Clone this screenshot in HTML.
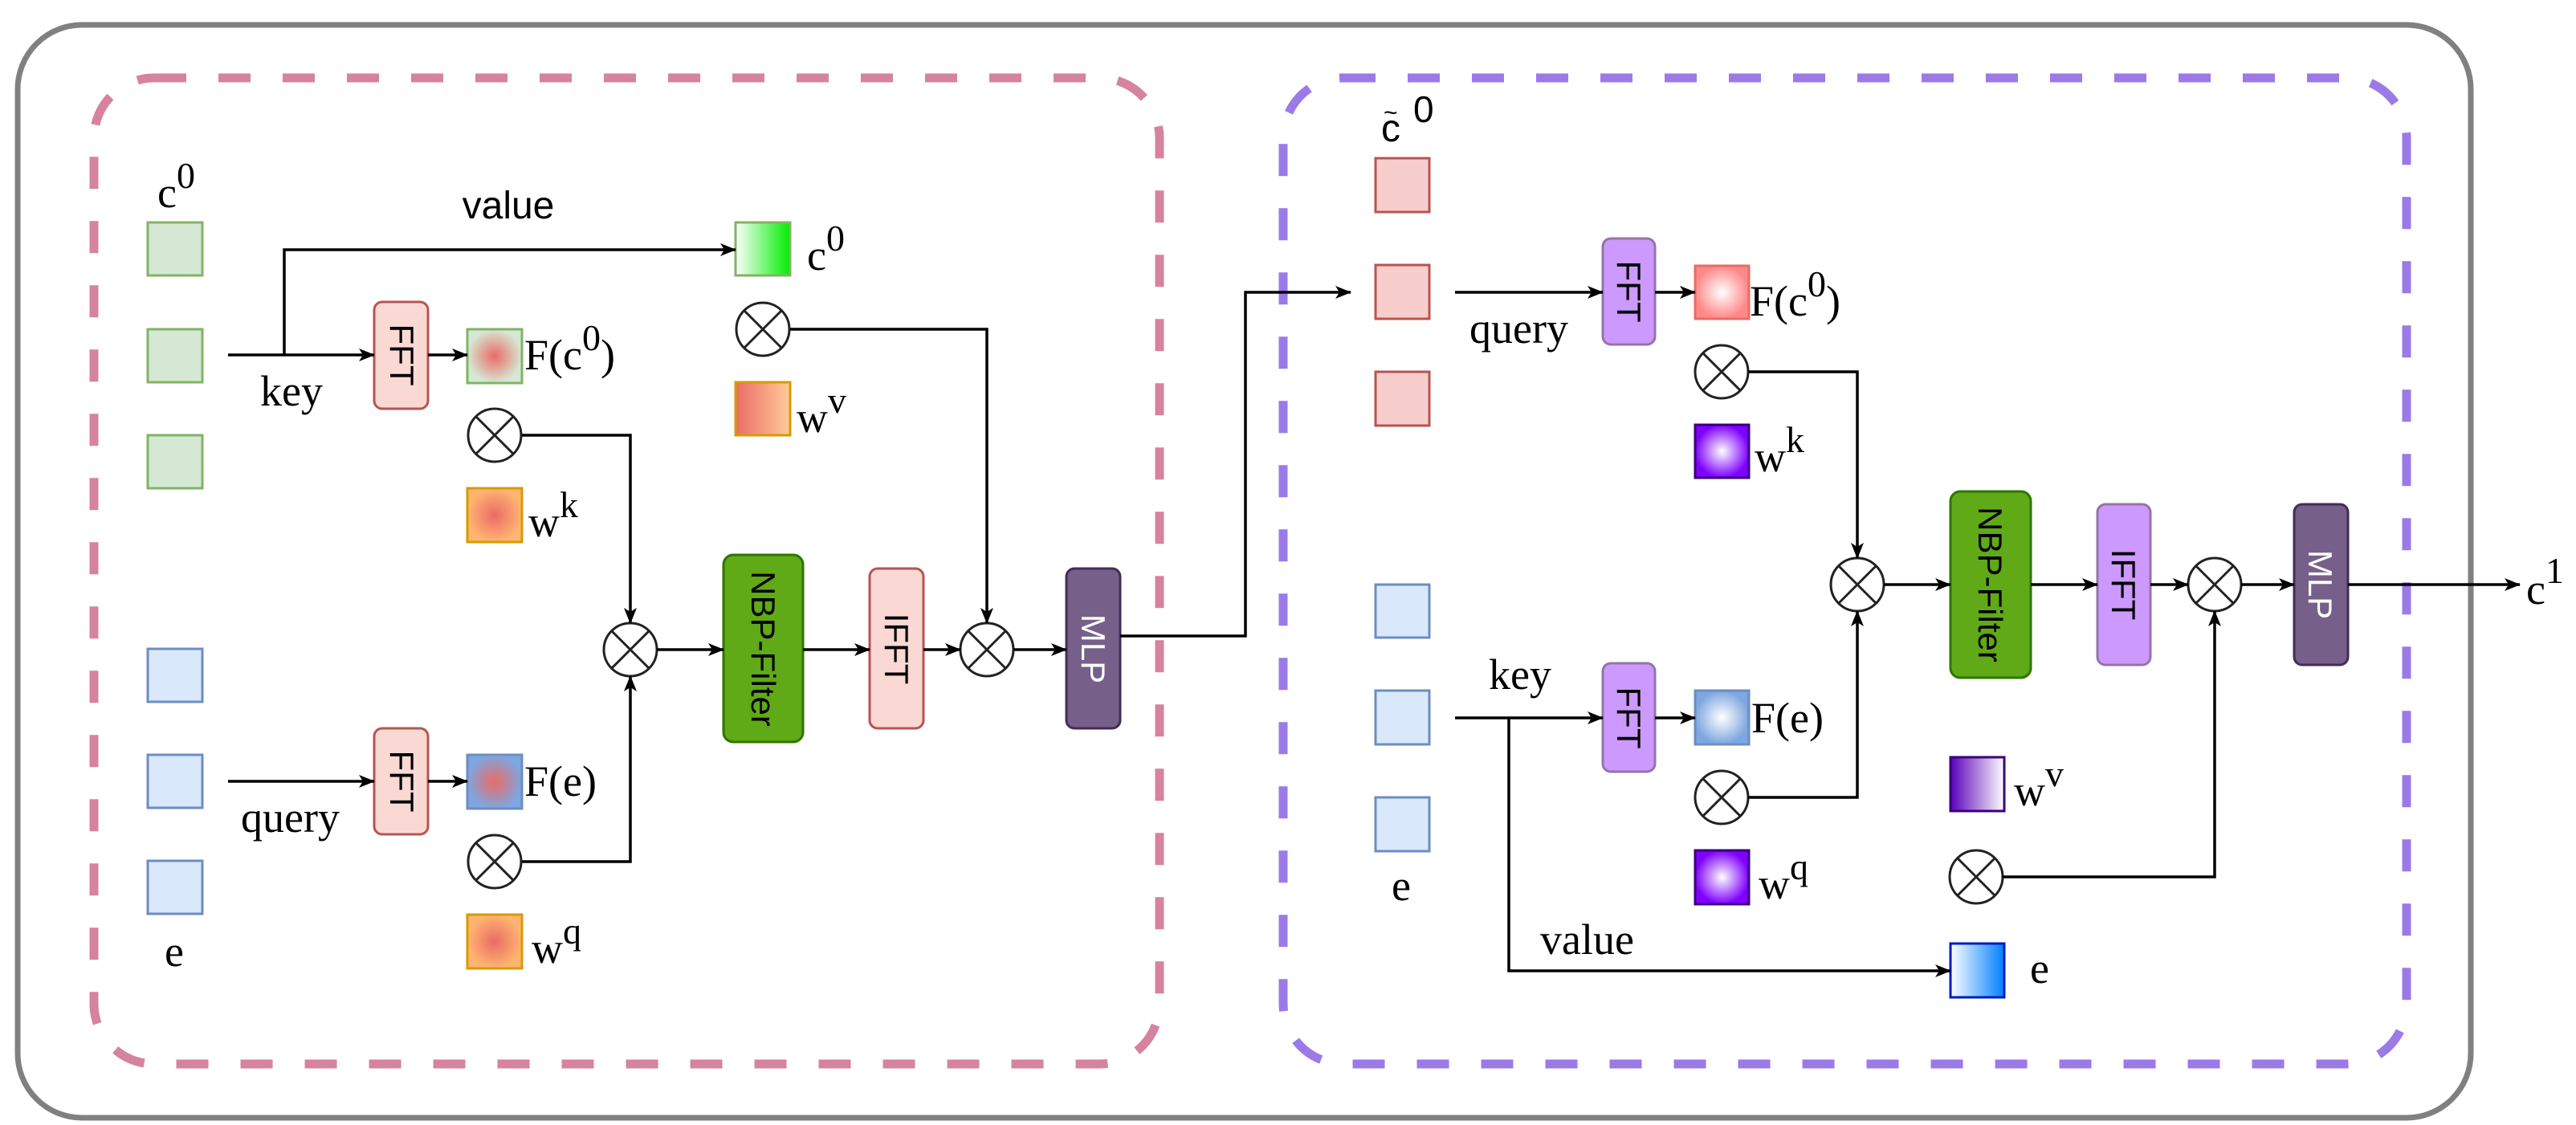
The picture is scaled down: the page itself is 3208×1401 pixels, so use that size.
<!DOCTYPE html>
<html><head><meta charset="utf-8"><style>
html,body{margin:0;padding:0;background:#fff;}
svg{display:block}
.s{font-family:"Liberation Serif",serif;fill:#000}
.a{font-family:"Liberation Sans",sans-serif;fill:#000}
</style></head><body>
<svg width="3208" height="1401" viewBox="0 0 3208 1401" xmlns="http://www.w3.org/2000/svg">
<defs>
<marker id="m" viewBox="0 0 20 16" refX="19" refY="8" markerWidth="20" markerHeight="16" orient="auto" markerUnits="userSpaceOnUse">
<path d="M0,0 L20,8 L0,16 L5,8 Z" fill="#000"/>
</marker>
<radialGradient id="rg_g"><stop offset="0" stop-color="#ea6b66"/><stop offset="1" stop-color="#d5e8d4"/></radialGradient>
<radialGradient id="rg_b"><stop offset="0" stop-color="#ea6b66"/><stop offset="1" stop-color="#7ea6e0"/></radialGradient>
<radialGradient id="rg_o"><stop offset="0" stop-color="#ea6b66"/><stop offset="1" stop-color="#ffb570"/></radialGradient>
<radialGradient id="rg_w"><stop offset="0" stop-color="#ffffff"/><stop offset="1" stop-color="#ff8888"/></radialGradient>
<radialGradient id="rg_wb"><stop offset="0" stop-color="#ffffff"/><stop offset="1" stop-color="#7ea6e0"/></radialGradient>
<radialGradient id="rg_p"><stop offset="0" stop-color="#ffffff"/><stop offset="1" stop-color="#7f00ff"/></radialGradient>
<linearGradient id="lg_g"><stop offset="0" stop-color="#ffffff"/><stop offset="1" stop-color="#00ee00"/></linearGradient>
<linearGradient id="lg_o"><stop offset="0" stop-color="#ea6b66"/><stop offset="1" stop-color="#ffcc99"/></linearGradient>
<linearGradient id="lg_p"><stop offset="0" stop-color="#5a00b8"/><stop offset="1" stop-color="#ffffff"/></linearGradient>
<linearGradient id="lg_b"><stop offset="0" stop-color="#ffffff"/><stop offset="1" stop-color="#007fff"/></linearGradient>
</defs>

<rect x="22" y="31" width="3055" height="1361" rx="80" fill="none" stroke="#808080" stroke-width="7"/>
<rect x="117" y="97" width="1327" height="1228" rx="75" fill="none" stroke="#d6839f" stroke-width="11" stroke-dasharray="40,40"/>
<rect x="1598" y="97" width="1399" height="1228" rx="75" fill="none" stroke="#9b7ae8" stroke-width="11" stroke-dasharray="40,40"/>

<g stroke-width="3">
<rect x="184" y="277" width="68" height="66" fill="#d5e8d4" stroke="#82b366"/>
<rect x="184" y="410" width="68" height="66" fill="#d5e8d4" stroke="#82b366"/>
<rect x="184" y="542" width="68" height="66" fill="#d5e8d4" stroke="#82b366"/>
<rect x="184" y="808" width="68" height="66" fill="#dae8fc" stroke="#6c8ebf"/>
<rect x="184" y="940" width="68" height="66" fill="#dae8fc" stroke="#6c8ebf"/>
<rect x="184" y="1072" width="68" height="66" fill="#dae8fc" stroke="#6c8ebf"/>

<rect x="582" y="410" width="68" height="67" fill="url(#rg_g)" stroke="#82b366"/>
<rect x="582" y="608" width="68" height="67" fill="url(#rg_o)" stroke="#d79b00"/>
<rect x="582" y="940" width="68" height="67" fill="url(#rg_b)" stroke="#6c8ebf"/>
<rect x="582" y="1139" width="68" height="67" fill="url(#rg_o)" stroke="#d79b00"/>
<rect x="916" y="277" width="68" height="66" fill="url(#lg_g)" stroke="#82b366"/>
<rect x="916" y="476" width="68" height="66" fill="url(#lg_o)" stroke="#d79b00"/>

<rect x="1713" y="197" width="67" height="67" fill="#f8cecc" stroke="#b85450"/>
<rect x="1713" y="330" width="67" height="67" fill="#f8cecc" stroke="#b85450"/>
<rect x="1713" y="463" width="67" height="67" fill="#f8cecc" stroke="#b85450"/>
<rect x="1713" y="728" width="67" height="66" fill="#dae8fc" stroke="#6c8ebf"/>
<rect x="1713" y="860" width="67" height="67" fill="#dae8fc" stroke="#6c8ebf"/>
<rect x="1713" y="993" width="67" height="67" fill="#dae8fc" stroke="#6c8ebf"/>

<rect x="2111" y="331" width="67" height="66" fill="url(#rg_w)" stroke="#ea6b66"/>
<rect x="2111" y="529" width="67" height="66" fill="url(#rg_p)" stroke="#3a007a"/>
<rect x="2111" y="860" width="67" height="67" fill="url(#rg_wb)" stroke="#6c8ebf"/>
<rect x="2111" y="1059" width="67" height="67" fill="url(#rg_p)" stroke="#3a007a"/>
<rect x="2429" y="943" width="67" height="67" fill="url(#lg_p)" stroke="#3a007a"/>
<rect x="2429" y="1175" width="67" height="67" fill="url(#lg_b)" stroke="#001dbc"/>

<rect x="466" y="376" width="67" height="133" rx="10" fill="#fad9d5" stroke="#b85450"/>
<rect x="466" y="907" width="67" height="132" rx="10" fill="#fad9d5" stroke="#b85450"/>
<rect x="901" y="691" width="99" height="233" rx="12" fill="#60a917" stroke="#2d7600"/>
<rect x="1083" y="708" width="67" height="199" rx="10" fill="#fad9d5" stroke="#b85450"/>
<rect x="1328" y="708" width="67" height="199" rx="10" fill="#76608a" stroke="#432d57"/>

<rect x="1996" y="297" width="65" height="132" rx="10" fill="#cc99ff" stroke="#9673a6"/>
<rect x="1996" y="826" width="65" height="135" rx="10" fill="#cc99ff" stroke="#9673a6"/>
<rect x="2429" y="612" width="100" height="232" rx="12" fill="#60a917" stroke="#2d7600"/>
<rect x="2612" y="628" width="66" height="200" rx="10" fill="#cc99ff" stroke="#9673a6"/>
<rect x="2857" y="628" width="67" height="200" rx="10" fill="#76608a" stroke="#432d57"/>
</g>

<g class="a" font-size="42">
<text transform="translate(486,442) rotate(90)" text-anchor="middle">FFT</text>
<text transform="translate(486,973) rotate(90)" text-anchor="middle">FFT</text>
<text transform="translate(936,808) rotate(90)" text-anchor="middle">NBP-Filter</text>
<text transform="translate(1102,808) rotate(90)" text-anchor="middle">IFFT</text>
<text transform="translate(1347,808) rotate(90)" text-anchor="middle" fill="#fff">MLP</text>
<text transform="translate(2014,363) rotate(90)" text-anchor="middle">FFT</text>
<text transform="translate(2014,894) rotate(90)" text-anchor="middle">FFT</text>
<text transform="translate(2464,728) rotate(90)" text-anchor="middle">NBP-Filter</text>
<text transform="translate(2630,728) rotate(90)" text-anchor="middle">IFFT</text>
<text transform="translate(2875,728) rotate(90)" text-anchor="middle" fill="#fff">MLP</text>
</g>

<g fill="#fff" stroke="#222" stroke-width="3">
<g transform="translate(616,542)"><circle r="33"/><path d="M-23,-23 L23,23 M-23,23 L23,-23"/></g>
<g transform="translate(616,1073)"><circle r="33"/><path d="M-23,-23 L23,23 M-23,23 L23,-23"/></g>
<g transform="translate(950,410)"><circle r="33"/><path d="M-23,-23 L23,23 M-23,23 L23,-23"/></g>
<g transform="translate(785,809)"><circle r="33"/><path d="M-23,-23 L23,23 M-23,23 L23,-23"/></g>
<g transform="translate(1229,809)"><circle r="33"/><path d="M-23,-23 L23,23 M-23,23 L23,-23"/></g>
<g transform="translate(2144,463)"><circle r="33"/><path d="M-23,-23 L23,23 M-23,23 L23,-23"/></g>
<g transform="translate(2144,993)"><circle r="33"/><path d="M-23,-23 L23,23 M-23,23 L23,-23"/></g>
<g transform="translate(2313,728)"><circle r="33"/><path d="M-23,-23 L23,23 M-23,23 L23,-23"/></g>
<g transform="translate(2758,728)"><circle r="33"/><path d="M-23,-23 L23,23 M-23,23 L23,-23"/></g>
<g transform="translate(2461,1092)"><circle r="33"/><path d="M-23,-23 L23,23 M-23,23 L23,-23"/></g>
</g>

<g fill="none" stroke="#000" stroke-width="3.5" marker-end="url(#m)">
<path d="M284,442 H466"/>
<path d="M354,442 V311 H916"/>
<path d="M533,442 H582"/>
<path d="M284,973 H466"/>
<path d="M533,973 H582"/>
<path d="M650,542 H785 V776"/>
<path d="M650,1073 H785 V842"/>
<path d="M984,410 H1229 V776"/>
<path d="M818,809 H901"/>
<path d="M1000,809 H1083"/>
<path d="M1150,809 H1196"/>
<path d="M1262,809 H1328"/>
<path d="M1395,792 H1551 V364 H1682"/>
<path d="M1812,364 H1996"/>
<path d="M2061,364 H2111"/>
<path d="M1812,894 H1996"/>
<path d="M2061,894 H2111"/>
<path d="M1879,894 V1209 H2429"/>
<path d="M2177,463 H2313 V695"/>
<path d="M2177,993 H2313 V761"/>
<path d="M2346,728 H2429"/>
<path d="M2529,728 H2612"/>
<path d="M2678,728 H2725"/>
<path d="M2791,728 H2857"/>
<path d="M2924,728 H3138"/>
<path d="M2494,1092 H2758 V761"/>
</g>

<g class="s" font-size="54">
<text x="196" y="258">c<tspan font-size="46" dy="-24">0</tspan></text>
<text x="205" y="1203">e</text>
<text x="324" y="505">key</text>
<text x="300" y="1036">query</text>
<text x="653" y="460">F(c<tspan font-size="46" dy="-24">0</tspan><tspan dy="24">)</tspan></text>
<text x="658" y="668">w<tspan font-size="46" dy="-24">k</tspan></text>
<text x="653" y="991">F(e)</text>
<text x="662" y="1199">w<tspan font-size="46" dy="-24">q</tspan></text>
<text x="1005" y="336">c<tspan font-size="46" dy="-24">0</tspan></text>
<text x="992" y="538">w<tspan font-size="46" dy="-24">v</tspan></text>

<text x="1830" y="427">query</text>
<text x="1854" y="858">key</text>
<text x="1918" y="1188">value</text>
<text x="1733" y="1121">e</text>
<text x="2179" y="393">F(c<tspan font-size="46" dy="-24">0</tspan><tspan dy="24">)</tspan></text>
<text x="2185" y="587">w<tspan font-size="46" dy="-24">k</tspan></text>
<text x="2181" y="912">F(e)</text>
<text x="2190" y="1119">w<tspan font-size="46" dy="-24">q</tspan></text>
<text x="2508" y="1003">w<tspan font-size="46" dy="-24">v</tspan></text>
<text x="2528" y="1224">e</text>
<text x="3146" y="752">c<tspan font-size="46" dy="-26">1</tspan></text>
</g>
<text class="a" x="633" y="272" font-size="48" text-anchor="middle">value</text>
<text class="a" x="1720" y="176" font-size="48">c</text>
<text class="a" x="1723" y="150" font-size="30">~</text>
<text class="a" x="1760" y="152" font-size="46">0</text>
</svg>
</body></html>
